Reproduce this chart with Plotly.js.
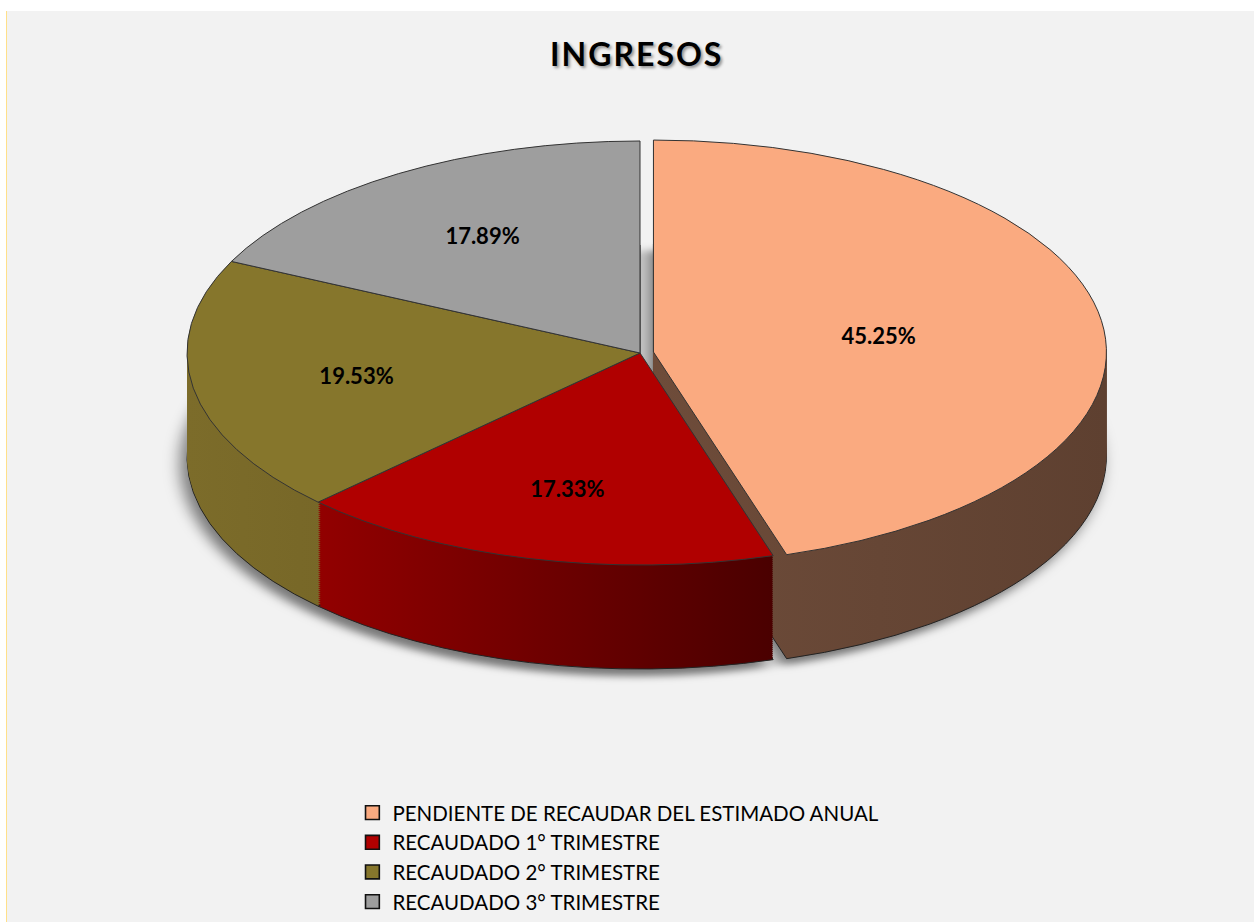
<!DOCTYPE html>
<html><head><meta charset="utf-8">
<script src="https://cdn.plot.ly/plotly-3.0.1.min.js"></script>
<style>
html,body{margin:0;padding:0;background:#ffffff;}
#chart{position:absolute;left:6px;top:11px;width:1248px;height:911px;border-left:1px solid #FFE08A;box-sizing:border-box;}
#chart .gtitle{letter-spacing:2px;}
</style></head><body><div id="chart"></div>
<script>
// ---- data ----
const chartTitle = 'INGRESOS';
const categories = [
  'PENDIENTE DE RECAUDAR DEL ESTIMADO ANUAL',
  'RECAUDADO 1° TRIMESTRE',
  'RECAUDADO 2° TRIMESTRE',
  'RECAUDADO 3° TRIMESTRE'
];
const values = [45.25, 17.33, 19.53, 17.89];
const topColors = ['#FAAA80', '#B00000', '#86762C', '#9E9E9E'];
const wallColors = ['#654535', '#6E0000', '#74642A', '#606060'];
const pulls = [0.03, 0, 0, 0];

// ---- 3D look parameters ----
const CX = 633, CY = 342, RX = 453, RY = 212;
const DEPTH = 104, STEP = 2;

const traces = [];
const depths = [];
for (let d = DEPTH; d > 0; d -= STEP) {
  traces.push({
    type: 'pie', labels: categories, values: values, sort: false,
    direction: 'clockwise', rotation: 0, pull: pulls,
    marker: {colors: wallColors, line: {width: d === DEPTH ? 1 : 0, color: '#222222'}},
    textinfo: 'none', hoverinfo: 'skip', showlegend: false,
    domain: {x: [0, 1], y: [0, 1]}
  });
  depths.push(d);
}
traces.push({
  type: 'pie', labels: categories, values: values, sort: false,
  direction: 'clockwise', rotation: 0, pull: pulls,
  marker: {colors: topColors, line: {width: 1, color: '#333333'}},
  texttemplate: '%{percent:.2%}', textposition: 'inside',
  insidetextorientation: 'horizontal',
  textfont: {family: 'Lato', size: 22, color: '#000000', weight: 'bold'},
  hoverinfo: 'skip', showlegend: true,
  domain: {x: [0, 1], y: [0, 1]}
});
depths.push(0);

const layout = {
  width: 1247, height: 911,
  paper_bgcolor: '#F2F2F2',
  margin: {l: 0, r: 0, t: 0, b: 0},
  title: {
    text: chartTitle,
    font: {family: 'Lato', size: 32, color: '#000000', weight: 'bold',
           shadow: '2px 2px 3px rgba(0,0,0,0.4)'},
    x: 0.505, xanchor: 'center', y: 0.952, yanchor: 'middle'
  },
  showlegend: true,
  legend: {
    x: 0.277, xanchor: 'left', y: 0.138, yanchor: 'top',
    font: {family: 'Lato', size: 20.5, color: '#000000'},
    bgcolor: 'rgba(0,0,0,0)', traceorder: 'normal'
  }
};

Plotly.newPlot('chart', traces, layout, {staticPlot: true, displayModeBar: false}).then(function (gd) {
  const ns = 'http://www.w3.org/2000/svg';
  const svg = gd.querySelector('svg.main-svg');
  let defs = svg.querySelector('defs');
  if (!defs) { defs = document.createElementNS(ns, 'defs'); svg.insertBefore(defs, svg.firstChild); }
  function grad(id, c1, c2) {
    const lg = document.createElementNS(ns, 'linearGradient');
    lg.setAttribute('id', id);
    lg.setAttribute('x1', '0'); lg.setAttribute('x2', '1');
    lg.setAttribute('y1', '0'); lg.setAttribute('y2', '0');
    [[0, c1], [1, c2]].forEach(function (s) {
      const st = document.createElementNS(ns, 'stop');
      st.setAttribute('offset', s[0]); st.setAttribute('stop-color', s[1]);
      lg.appendChild(st);
    });
    defs.appendChild(lg);
  }
  grad('redwall', '#920000', '#4A0000');
  grad('olivewall', '#7C6C2A', '#6C5C22');
  grad('orangewall', '#6E4C3A', '#5E4030');

  const groups = gd.querySelectorAll('.pielayer > g.trace');
  groups.forEach(function (g, i) {
    const cd0 = gd.calcdata[i][0];
    const sx = RX / cd0.r, sy = RY / cd0.r;
    const d = depths[i];
    g.setAttribute('transform',
      'translate(' + CX + ',' + (CY + d) + ') scale(' + sx + ',' + sy + ') translate(' + (-cd0.cx) + ',' + (-cd0.cy) + ')');
    g.querySelectorAll('path').forEach(function (p) { p.style.vectorEffect = 'non-scaling-stroke'; });
    if (d > 0) {
      const slices = g.querySelectorAll('g.slice');
      if (slices[0]) slices[0].querySelectorAll('path.surface').forEach(function (p) { p.style.fill = 'url(#orangewall)'; });
      if (slices[1]) slices[1].querySelectorAll('path.surface').forEach(function (p) { p.style.fill = 'url(#redwall)'; });
      if (slices[2]) slices[2].querySelectorAll('path.surface').forEach(function (p) { p.style.fill = 'url(#olivewall)'; });
    }
    if (d === DEPTH) {
      g.style.filter = 'drop-shadow(-6px 14px 8px rgba(0,0,0,0.5))';
    }
    g.querySelectorAll('g.slicetext').forEach(function (t) {
      const bb = t.getBBox();
      const px = bb.x + bb.width / 2, py = bb.y + bb.height / 2;
      t.setAttribute('transform',
        'translate(' + px + ',' + py + ') scale(' + (1 / sx) + ',' + (1 / sy) + ') translate(' + (-px) + ',' + (-py) + ')');
    });
  });
  // legend swatches: slightly larger with dark border
  gd.querySelectorAll('.legend .legendpoints path').forEach(function (p) {
    const old = p.getAttribute('transform') || '';
    p.setAttribute('transform', old + ' scale(1.15)');
    p.style.stroke = '#111111';
    p.style.strokeWidth = '1.6px';
    p.style.vectorEffect = 'non-scaling-stroke';
  });
});
</script>
</body></html>
